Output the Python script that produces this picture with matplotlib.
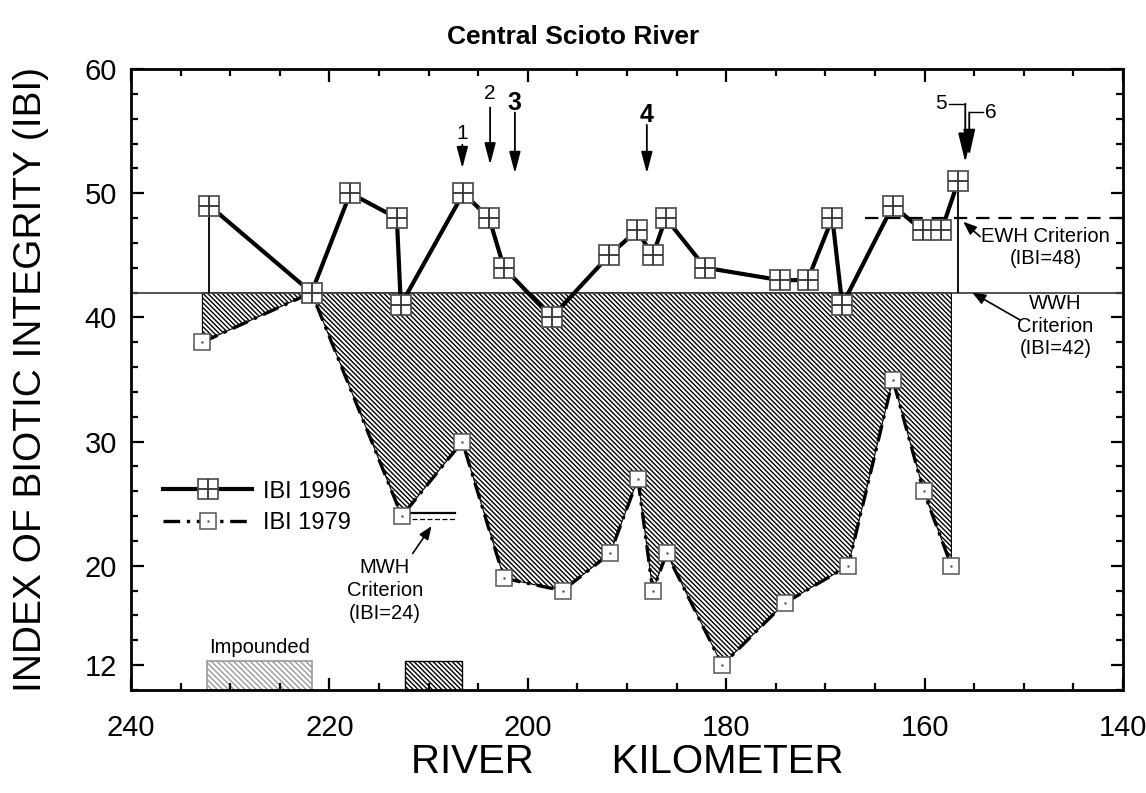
import matplotlib
matplotlib.use("Agg")
import matplotlib.pyplot as plt
from matplotlib.ticker import FixedLocator, MultipleLocator

plt.rcParams['font.family'] = ['Liberation Sans', 'DejaVu Sans']
plt.rcParams['hatch.linewidth'] = 1.0

# IBI 1996 sites (river km, score)
km_1996 = [232.1, 221.8, 217.9, 213.2, 212.8, 206.5, 203.9, 202.4, 197.6, 191.8, 189.0,
           187.4, 186.1, 182.1, 174.6, 171.8, 169.3, 168.3, 163.2, 160.2, 158.3, 156.6]
ibi_1996 = [49, 42, 50, 48, 41, 50, 48, 44, 40, 45, 47,
            45, 48, 44, 43, 43, 48, 41, 49, 47, 47, 51]

# IBI 1979 sites
km_1979 = [232.8, 221.8, 212.7, 206.6, 202.4, 196.5, 191.7, 188.9, 187.4, 186.0,
           180.4, 174.1, 167.7, 163.2, 160.1, 157.3]
ibi_1979 = [38, 42, 24, 30, 19, 18, 21, 27, 18, 21,
            12, 17, 20, 35, 26, 20]

# criteria
wwh = 42
ewh = 48
mwh = 24
ewh_start = 166.0
mwh_km = [213.2, 207.3]

# impounded reaches (km from, km to)
impounded = [(232.3, 221.8), (212.4, 206.6)]
imp_top = 12.3

# numbered sites along the top
site_labels = ['1', '2', '3', '4']
site_km = [206.6, 203.8, 201.3, 188.0]
site_bold = [False, False, True, True]

fig = plt.figure(figsize=(11.46, 7.93), dpi=100)
ax = fig.add_axes([131/1146, 103/793, 992/1146, 621/793])

# hatched departure area between 1979 line and WWH criterion
ax.fill_between(km_1979, ibi_1979, wwh, facecolor='white', edgecolor='black',
                hatch='\\' * 7, linewidth=0.8, zorder=1)

# criteria lines
ax.axhline(wwh, color='#444444', lw=1.3, zorder=2)
ax.plot([ewh_start, 140], [ewh, ewh], color='black', lw=1.6, dashes=(6, 4), zorder=2)
ax.plot(mwh_km, [mwh + 0.25, mwh + 0.25], color='black', lw=1.6, zorder=2)
ax.plot(mwh_km, [mwh - 0.2, mwh - 0.2], color='black', lw=0.9, dashes=(4, 2), zorder=2)

# impounded boxes
ax.bar([(a + b) / 2 for a, b in impounded[:1]], imp_top - 10, bottom=10,
       width=[abs(a - b) for a, b in impounded[:1]], facecolor='white',
       edgecolor='#9a9a9a', hatch='\\' * 6, linewidth=1.2, zorder=1)
ax.bar([(a + b) / 2 for a, b in impounded[1:]], imp_top - 10, bottom=10,
       width=[abs(a - b) for a, b in impounded[1:]], facecolor='white',
       edgecolor='black', hatch='\\' * 7, linewidth=1.0, zorder=1)

# drop lines from end sites to WWH
ax.vlines([km_1996[0], km_1996[-1]], wwh, [ibi_1996[0], ibi_1996[-1]],
          color='black', lw=1.3, zorder=2)

# 1979 series
l79, = ax.plot(km_1979, ibi_1979, color='black', lw=2.4, dashes=(5, 2, 1, 2),
               marker='s', ms=11.5, mfc='white', mec='#555555', mew=1.1, zorder=4)
d79, = ax.plot(km_1979, ibi_1979, ls='none', marker='.', ms=1.5, color='#555555', zorder=5)

# 1996 series
l96, = ax.plot(km_1996, ibi_1996, color='black', lw=3.0,
               marker='s', ms=14.5, mfc='white', mec='#555555', mew=1.3, zorder=6)
p96, = ax.plot(km_1996, ibi_1996, ls='none', marker='+', ms=14.5, mew=1.3,
               color='#333333', zorder=7)

ax.legend([(l96, p96), (l79, d79)], ['IBI 1996', 'IBI 1979'], frameon=False,
          loc='center left', bbox_to_anchor=(0.032, 0.294), borderpad=0,
          borderaxespad=0, handlelength=3.8, handletextpad=0.45,
          labelspacing=0.4, fontsize=17)

# top site arrows
arw = dict(arrowstyle='-|>,head_length=0.65,head_width=0.17', color='black',
           lw=1.3, mutation_scale=20, shrinkA=0, shrinkB=0)
tops = [53.9, 56.9, 56.5, 55.5]
tips = [52.0, 52.3, 51.6, 51.6]
lab_y = [54.8, 58.0, 57.3, 56.3]
for lab, k, b, t0, t1, ly in zip(site_labels, site_km, site_bold, tops, tips, lab_y):
    ax.annotate('', xy=(k, t1), xytext=(k, t0), arrowprops=arw)
    ax.text(k, ly, lab, ha='center', va='center',
            fontsize=18 if b else 15, fontweight='bold' if b else 'normal')

# sites 5 and 6 with bent leaders
ax.text(158.3, 57.2, '5', ha='center', va='center', fontsize=15)
ax.plot([157.5, 155.9], [57.2, 57.2], color='black', lw=1.0)
ax.annotate('', xy=(155.9, 52.5), xytext=(155.9, 57.2),
            arrowprops=dict(arw, arrowstyle='-|>,head_length=0.9,head_width=0.22'))
ax.text(153.3, 56.5, '6', ha='center', va='center', fontsize=15)
ax.plot([154.1, 155.5], [56.5, 56.5], color='black', lw=1.0)
ax.annotate('', xy=(155.5, 53.0), xytext=(155.5, 56.5),
            arrowprops=dict(arw, arrowstyle='-|>,head_length=0.8,head_width=0.18'))

# criterion labels
small = dict(arrowstyle='-|>,head_length=0.5,head_width=0.2', color='black',
             lw=1.2, mutation_scale=16, shrinkA=0, shrinkB=0)
ax.annotate('', xy=(156.1, 47.7), xytext=(154.4, 46.5), arrowprops=small)
ax.text(147.8, 47.3, 'EWH Criterion\n(IBI=48)', ha='center', va='top',
        fontsize=14.5, linespacing=1.25)
ax.annotate('', xy=(155.2, 42.0), xytext=(150.4, 39.8), arrowprops=small)
ax.text(146.8, 39.3, 'WWH\nCriterion\n(IBI=42)', ha='center', va='center',
        fontsize=14.5, linespacing=1.25)
ax.annotate('', xy=(209.7, 23.2), xytext=(211.6, 21.0), arrowprops=small)
ax.text(214.4, 18.0, 'MWH\nCriterion\n(IBI=24)', ha='center', va='center',
        fontsize=14.5, linespacing=1.25)
ax.text((impounded[0][0] + impounded[0][1]) / 2, 13.4, 'Impounded',
        ha='center', va='center', fontsize=14.5)

ax.set_xlim(240, 140)
ax.set_ylim(10, 60)
ax.xaxis.set_major_locator(MultipleLocator(20))
ax.xaxis.set_minor_locator(MultipleLocator(5))
ax.yaxis.set_major_locator(FixedLocator([12, 20, 30, 40, 50, 60]))
ax.yaxis.set_minor_locator(MultipleLocator(2))
ax.tick_params(which='both', direction='in', top=True, right=True, width=1.6)
ax.tick_params(which='major', length=9, labelsize=21)
ax.tick_params(which='minor', length=5)
ax.tick_params(axis='x', which='major', pad=17)
ax.tick_params(axis='y', which='major', pad=10)
for s in ax.spines.values():
    s.set_linewidth(2.0)

ax.set_xlabel('RIVER       KILOMETER', fontsize=29, va='center')
ax.xaxis.set_label_coords(0.5, -(762 - 690) / 621)
ax.set_ylabel('INDEX OF BIOTIC INTEGRITY (IBI)', fontsize=28, va='center')
ax.yaxis.set_label_coords(-(131 - 31) / 992, 0.5)
fig.text(0.5, 1 - 37/793, 'Central Scioto River', ha='center', va='center',
         fontsize=19, fontweight='bold')

fig.savefig('out.png', dpi=100)
